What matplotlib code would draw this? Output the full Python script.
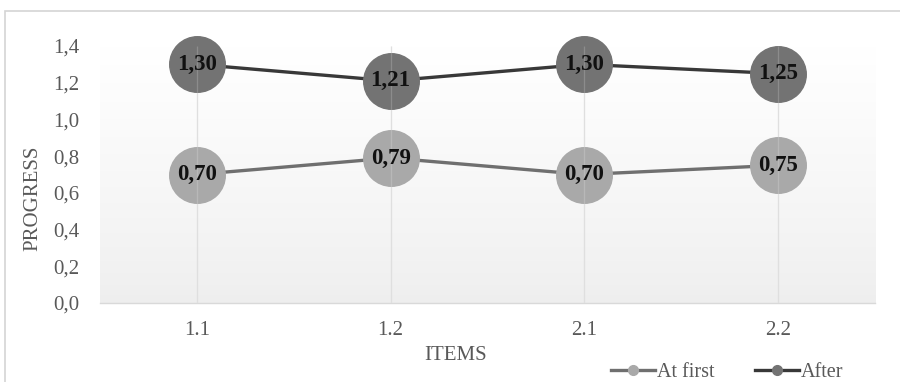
import numpy as np
import matplotlib
matplotlib.use("Agg")
import matplotlib.pyplot as plt
from matplotlib.patches import Rectangle
from matplotlib.lines import Line2D

plt.rcParams['font.family'] = ['Liberation Serif', 'DejaVu Serif']

items = ["1.1", "1.2", "2.1", "2.2"]
at_first = [0.70, 0.79, 0.70, 0.75]
after = [1.30, 1.21, 1.30, 1.25]
y_ticks = [0.0, 0.2, 0.4, 0.6, 0.8, 1.0, 1.2, 1.4]

c_first_line = "#6f6f6f"
c_first_mark = "#a9a9a9"
c_after_line = "#383838"
c_after_mark = "#737373"
grid_c = "#d9d9d9"
tick_c = "#595959"

fig = plt.figure(figsize=(9, 3.82), dpi=100)
fig.patch.set_facecolor("white")

# outer chart frame
fig.patches.append(Rectangle((5 / 900, -0.2), 1.2, 1.2 - 11 / 382,
                             transform=fig.transFigure, fill=False,
                             edgecolor="#d4d4d4", linewidth=1.2, zorder=0))

ax = fig.add_axes([100 / 900, 1 - 303 / 382, 775 / 900, (303 - 46) / 382])
x = np.arange(len(items))
ax.set_xlim(-0.5, len(items) - 0.5)
ax.set_ylim(0, 1.4)

# soft vertical gradient behind the plot
grad = np.linspace(0, 1, 256).reshape(-1, 1)
top = np.array([1.0, 1.0, 1.0])
bot = np.array([0xee, 0xee, 0xee]) / 255
img = (bot + (top - bot) * grad ** 0.8)[:, None, :] * np.ones((1, 2, 1))
ax.imshow(img, extent=(-0.5, len(items) - 0.5, 0, 1.4), origin="lower",
          aspect="auto", zorder=0)

ax.vlines(x, 0, 1.4, colors=grid_c, linewidth=0.9, zorder=1)

for vals, lc, mc in ((at_first, c_first_line, c_first_mark),
                     (after, c_after_line, c_after_mark)):
    ax.plot(x, vals, color=lc, linewidth=2.4, zorder=2, clip_on=False)
    ax.plot(x, vals, linestyle="none", marker="o", markersize=40,
            markerfacecolor=mc, markeredgecolor=mc, zorder=3, clip_on=False)
    for xi, v in zip(x, vals):
        ax.text(xi, v, f"{v:.2f}".replace(".", ","), ha="center", va="center",
                fontsize=16.5, fontweight="bold", color="#111111", zorder=5)

# faint gridline showing through the circles
ax.vlines(x, 0, 1.4, colors="white", linewidth=0.9, alpha=0.18, zorder=4)

for s in ("top", "right", "left"):
    ax.spines[s].set_visible(False)
ax.spines["bottom"].set_color(grid_c)
ax.spines["bottom"].set_linewidth(1.0)

ax.set_xticks(x)
ax.set_xticklabels(items)
ax.set_yticks(y_ticks)
ax.set_yticklabels([f"{t:.1f}".replace(".", ",") for t in y_ticks])
ax.tick_params(axis="both", length=0, labelsize=15, colors=tick_c)
ax.tick_params(axis="x", pad=13)
ax.tick_params(axis="y", pad=15)

fig.text(33 / 900, 1 - 198 / 382, "PROGRESS", rotation=90, ha="center",
         va="center", fontsize=15, color=tick_c)
fig.text(456 / 900, 1 - 355 / 382, "ITEMS", ha="center", va="center",
         fontsize=15, color=tick_c)

handles = [
    Line2D([], [], color=c_first_line, linewidth=2.4, marker="o",
           markersize=7, markerfacecolor=c_first_mark, markeredgecolor=c_first_mark),
    Line2D([], [], color=c_after_line, linewidth=2.4, marker="o",
           markersize=7, markerfacecolor=c_after_mark, markeredgecolor=c_after_mark),
]
leg = fig.legend(handles, ["At first", "After"], loc="center",
                 bbox_to_anchor=(727 / 900, 1 - 372 / 382), ncol=2,
                 frameon=False, fontsize=14.5, handlelength=2.2,
                 handletextpad=0.1, columnspacing=2.0, borderpad=0)
for t in leg.get_texts():
    t.set_color(tick_c)

fig.savefig("out.png", dpi=100)
